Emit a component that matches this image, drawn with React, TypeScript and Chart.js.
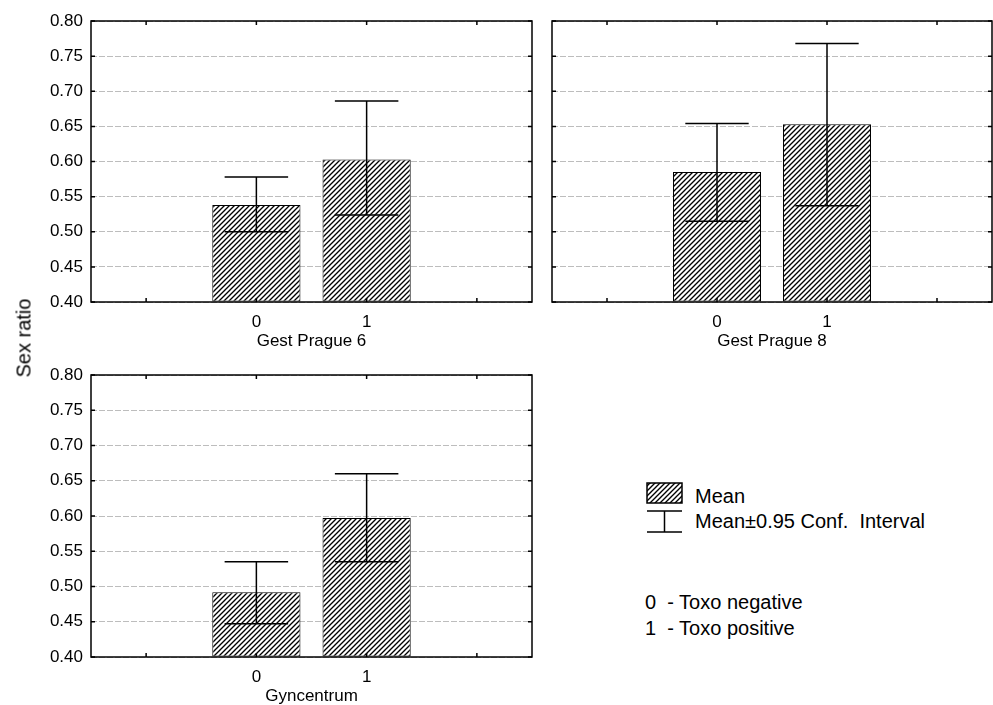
import React, { useEffect, useRef } from "react";
import { Chart, registerables } from "chart.js";

Chart.register(...registerables);

const FONT = "'Liberation Sans', Arial, Helvetica, sans-serif";

const categories = ["", "0", "1", ""];
const panelTitles = ["Gest Prague 6", "Gest Prague 8", "Gyncentrum"];
const yTickMin = 0.4;
const yTickMax = 0.8;
const yTickStep = 0.05;

const meansPrague6 = [null, 0.538, 0.603, null];
const lowerPrague6 = [null, 0.5, 0.524, null];
const upperPrague6 = [null, 0.578, 0.686, null];

const meansPrague8 = [null, 0.585, 0.653, null];
const lowerPrague8 = [null, 0.515, 0.537, null];
const upperPrague8 = [null, 0.654, 0.768, null];

const meansGyn = [null, 0.492, 0.597, null];
const lowerGyn = [null, 0.447, 0.535, null];
const upperGyn = [null, 0.535, 0.66, null];

const legendItems = ["Mean", "Mean\u00b10.95 Conf.  Interval"];
const codeItems = ["0  - Toxo negative", "1  - Toxo positive"];
const yTitle = "Sex ratio";

function makeHatch(ctx: CanvasRenderingContext2D) {
  const s = 5;
  const c = document.createElement("canvas");
  c.width = s;
  c.height = s;
  const g = c.getContext("2d")!;
  g.fillStyle = "#fff";
  g.fillRect(0, 0, s, s);
  g.strokeStyle = "#000";
  g.lineWidth = 1.35;
  g.beginPath();
  g.moveTo(-1, s + 1);
  g.lineTo(s + 1, -1);
  g.moveTo(-1, 1);
  g.lineTo(1, -1);
  g.moveTo(s - 1, s + 1);
  g.lineTo(s + 1, s - 1);
  g.stroke();
  return ctx.createPattern(c, "repeat")!;
}

const errorBarPlugin = {
  id: "errorBars",
  afterDatasetsDraw(chart: any, _args: any, opts: any) {
    const { ctx } = chart;
    const y = chart.scales.y;
    const meta = chart.getDatasetMeta(0);
    ctx.save();
    ctx.strokeStyle = "#000";
    ctx.lineWidth = 1.5;
    meta.data.forEach((bar: any, i: number) => {
      const lo = opts.lower[i];
      const hi = opts.upper[i];
      if (lo == null || hi == null) return;
      const props = bar.getProps(["x", "width"], true);
      const x = props.x;
      const half = (props.width * 0.72) / 2;
      const yl = y.getPixelForValue(lo);
      const yh = y.getPixelForValue(hi);
      ctx.beginPath();
      ctx.moveTo(x, yl);
      ctx.lineTo(x, yh);
      ctx.moveTo(x - half, yl);
      ctx.lineTo(x + half, yl);
      ctx.moveTo(x - half, yh);
      ctx.lineTo(x + half, yh);
      ctx.stroke();
    });
    ctx.restore();
  },
};

const framePlugin = {
  id: "frame",
  afterDraw(chart: any) {
    const { ctx } = chart;
    const { left, right, top, bottom } = chart.chartArea;
    ctx.save();
    ctx.strokeStyle = "#000";
    ctx.lineWidth = 1.5;
    ctx.strokeRect(left, top, right - left, bottom - top);
    ctx.beginPath();
    const y = chart.scales.y;
    y.ticks.forEach((_t: any, i: number) => {
      const py = y.getPixelForTick(i);
      ctx.moveTo(left, py);
      ctx.lineTo(left + 4, py);
      ctx.moveTo(right - 4, py);
      ctx.lineTo(right, py);
    });
    const x = chart.scales.x;
    categories.forEach((_c, i) => {
      const px = x.getPixelForTick(i);
      ctx.moveTo(px, top);
      ctx.lineTo(px, top + 4);
      ctx.moveTo(px, bottom - 4);
      ctx.lineTo(px, bottom);
    });
    ctx.stroke();
    ctx.restore();
  },
};

function makeConfig(
  means: (number | null)[],
  lower: (number | null)[],
  upper: (number | null)[],
  title: string,
  showY: boolean,
  yWidth: number,
  padding: any,
  pattern: CanvasPattern
): any {
  const font = { family: FONT, size: 17 };
  return {
    type: "bar",
    data: {
      labels: categories,
      datasets: [
        {
          data: means,
          base: yTickMin,
          backgroundColor: pattern,
          borderColor: "#000",
          borderWidth: 1,
          borderSkipped: false,
          barPercentage: 0.8,
          categoryPercentage: 1,
        },
      ],
    },
    options: {
      animation: false,
      responsive: false,
      devicePixelRatio: 1,
      layout: { padding },
      events: [],
      plugins: {
        legend: { display: false },
        tooltip: { enabled: false },
        errorBars: { lower, upper },
      },
      scales: {
        x: {
          grid: { display: false, drawTicks: false },
          border: { display: false },
          ticks: {
            color: "#000",
            font,
            padding: 10,
            maxRotation: 0,
            autoSkip: false,
          },
          title: {
            display: true,
            text: title,
            color: "#000",
            font,
            padding: { top: 0, bottom: 3 },
          },
          afterFit: (s: any) => {
            s.height = 53;
          },
        },
        y: {
          min: yTickMin,
          max: yTickMax,
          ticks: {
            stepSize: yTickStep,
            display: showY,
            padding: 8,
            color: "#000",
            font,
            callback: (v: any) => Number(v).toFixed(2),
          },
          grid: { color: "#bdbdbd", lineWidth: 1, drawTicks: false },
          border: { display: false, dash: [6, 2] },
          afterFit: (s: any) => {
            s.width = yWidth;
          },
        },
      },
    },
    plugins: [errorBarPlugin, framePlugin],
  };
}

export default function App() {
  const c1 = useRef<HTMLCanvasElement>(null);
  const c2 = useRef<HTMLCanvasElement>(null);
  const c3 = useRef<HTMLCanvasElement>(null);
  const lg = useRef<HTMLCanvasElement>(null);

  useEffect(() => {
    const charts: Chart[] = [];
    const setups: [HTMLCanvasElement | null, any][] = [
      [c1.current, [meansPrague6, lowerPrague6, upperPrague6, panelTitles[0], true, 91, { left: 0, right: 13, top: 21, bottom: 0 }]],
      [c2.current, [meansPrague8, lowerPrague8, upperPrague8, panelTitles[1], false, 7, { left: 0, right: 1, top: 21, bottom: 0 }]],
      [c3.current, [meansGyn, lowerGyn, upperGyn, panelTitles[2], true, 91, { left: 0, right: 13, top: 20, bottom: 0 }]],
    ];
    setups.forEach(([cv, a]) => {
      if (!cv) return;
      const ctx = cv.getContext("2d")!;
      const pattern = makeHatch(ctx);
      charts.push(new Chart(cv, makeConfig(a[0], a[1], a[2], a[3], a[4], a[5], a[6], pattern)));
    });
    if (lg.current) {
      const g = lg.current.getContext("2d")!;
      g.clearRect(0, 0, 40, 56);
      g.fillStyle = makeHatch(g);
      g.fillRect(1, 1, 35, 20);
      g.strokeStyle = "#000";
      g.lineWidth = 1.5;
      g.strokeRect(1, 1, 35, 20);
      g.beginPath();
      g.moveTo(1, 29);
      g.lineTo(36, 29);
      g.moveTo(1, 50);
      g.lineTo(36, 50);
      g.moveTo(18.5, 29);
      g.lineTo(18.5, 50);
      g.stroke();
    }
    return () => charts.forEach((c) => c.destroy());
  }, []);

  const textStyle = (left: number, cy: number, size: number): React.CSSProperties => ({
    position: "absolute",
    left,
    top: cy - 12,
    height: 24,
    lineHeight: "24px",
    fontFamily: FONT,
    fontSize: size,
    color: "#000",
    whiteSpace: "pre",
  });

  return (
    <div
      style={{
        position: "fixed",
        left: 0,
        top: 0,
        width: 993,
        height: 705,
        overflow: "hidden",
        background: "#fff",
      }}
    >
      <canvas ref={c1} width={545} height={355} style={{ position: "absolute", left: 0, top: 0, width: 545, height: 355 }} />
      <canvas ref={c2} width={448} height={355} style={{ position: "absolute", left: 545, top: 0, width: 448, height: 355 }} />
      <canvas ref={c3} width={545} height={355} style={{ position: "absolute", left: 0, top: 355, width: 545, height: 355 }} />
      <div
        style={{
          position: "absolute",
          left: 24,
          top: 338,
          transform: "translate(-50%, -50%) rotate(-90deg)",
          fontFamily: FONT,
          fontSize: 20,
          whiteSpace: "nowrap",
          color: "#000",
        }}
      >
        {yTitle}
      </div>
      <canvas ref={lg} width={40} height={56} style={{ position: "absolute", left: 646, top: 482, width: 40, height: 56 }} />
      <div style={textStyle(695, 496, 20)}>{legendItems[0]}</div>
      <div style={textStyle(695, 521, 20)}>{legendItems[1]}</div>
      <div style={textStyle(645, 602, 20)}>{codeItems[0]}</div>
      <div style={textStyle(645, 628, 20)}>{codeItems[1]}</div>
    </div>
  );
}
